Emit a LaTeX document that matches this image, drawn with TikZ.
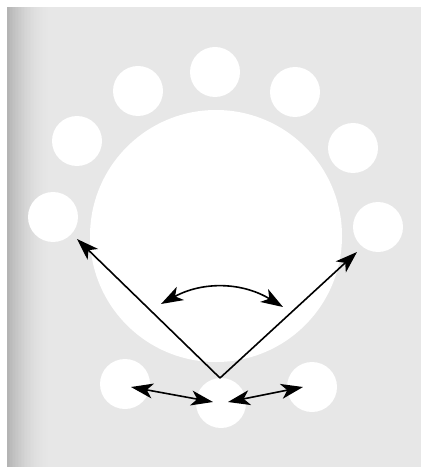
\documentclass[tikz,border=0pt]{standalone}
\usepackage{tikz}
\usetikzlibrary{arrows.meta}
\definecolor{paper}{HTML}{E7E7E7}
\definecolor{shadow}{HTML}{B4B4B4}
\tikzset{
  disc/.style={circle, fill=white, minimum size=50pt, inner sep=0pt},
  bigdisc/.style={circle, fill=white, minimum size=252pt, inner sep=0pt},
  ray/.style={-{Stealth[length=22pt,width=15pt,inset=6pt]}, line width=1.6pt},
  swing/.style={{Stealth[length=22pt,width=15pt,inset=6pt]}-{Stealth[length=22pt,width=15pt,inset=6pt]}, line width=1.6pt},
}
\begin{document}
\begin{tikzpicture}[x=1pt, y=-1pt]
\useasboundingbox (0,0) rectangle (421,470);
\fill[white] (0,0) rectangle (421,470);
\fill[paper] (7,7) rectangle (421,467);
% darker left edge
\foreach \i in {0,...,29}{
  \pgfmathsetmacro{\p}{100*(1-(1-\i/30)^2)}
  \fill[paper!\p!shadow] (7+\i*1.5,7) rectangle (8.6+\i*1.5,467);
}
% centre and ring
\node[bigdisc] (hub) at (216,236) {};
\node[disc] (n1) at (215,72) {};
\node[disc] (n2) at (138,91) {};
\node[disc] (n3) at (295,92) {};
\node[disc] (n4) at (77,141) {};
\node[disc] (n5) at (353,148) {};
\node[disc] (n6) at (53,217) {};
\node[disc] (n7) at (378,227) {};
\node[disc] (b1) at (125,384) {};
\node[disc] (b2) at (221,403) {};
\node[disc] (b3) at (312,387) {};
% arrows
\coordinate (apex) at (220,378);
\coordinate (lt) at (77,239);
\coordinate (rt) at (357,252);
\coordinate (cl) at (161,304);
\coordinate (cr) at (283,307);
\coordinate (bl) at (131,387);
\coordinate (bm1) at (213,402);
\coordinate (bm2) at (228,402);
\coordinate (br) at (303,387);
\draw[ray] (apex) -- (lt);
\draw[ray] (apex) -- (rt);
\draw[swing] (cl) to[bend left=30] (cr);
\draw[swing] (bl) -- (bm1);
\draw[swing] (bm2) -- (br);
\end{tikzpicture}
\end{document}
